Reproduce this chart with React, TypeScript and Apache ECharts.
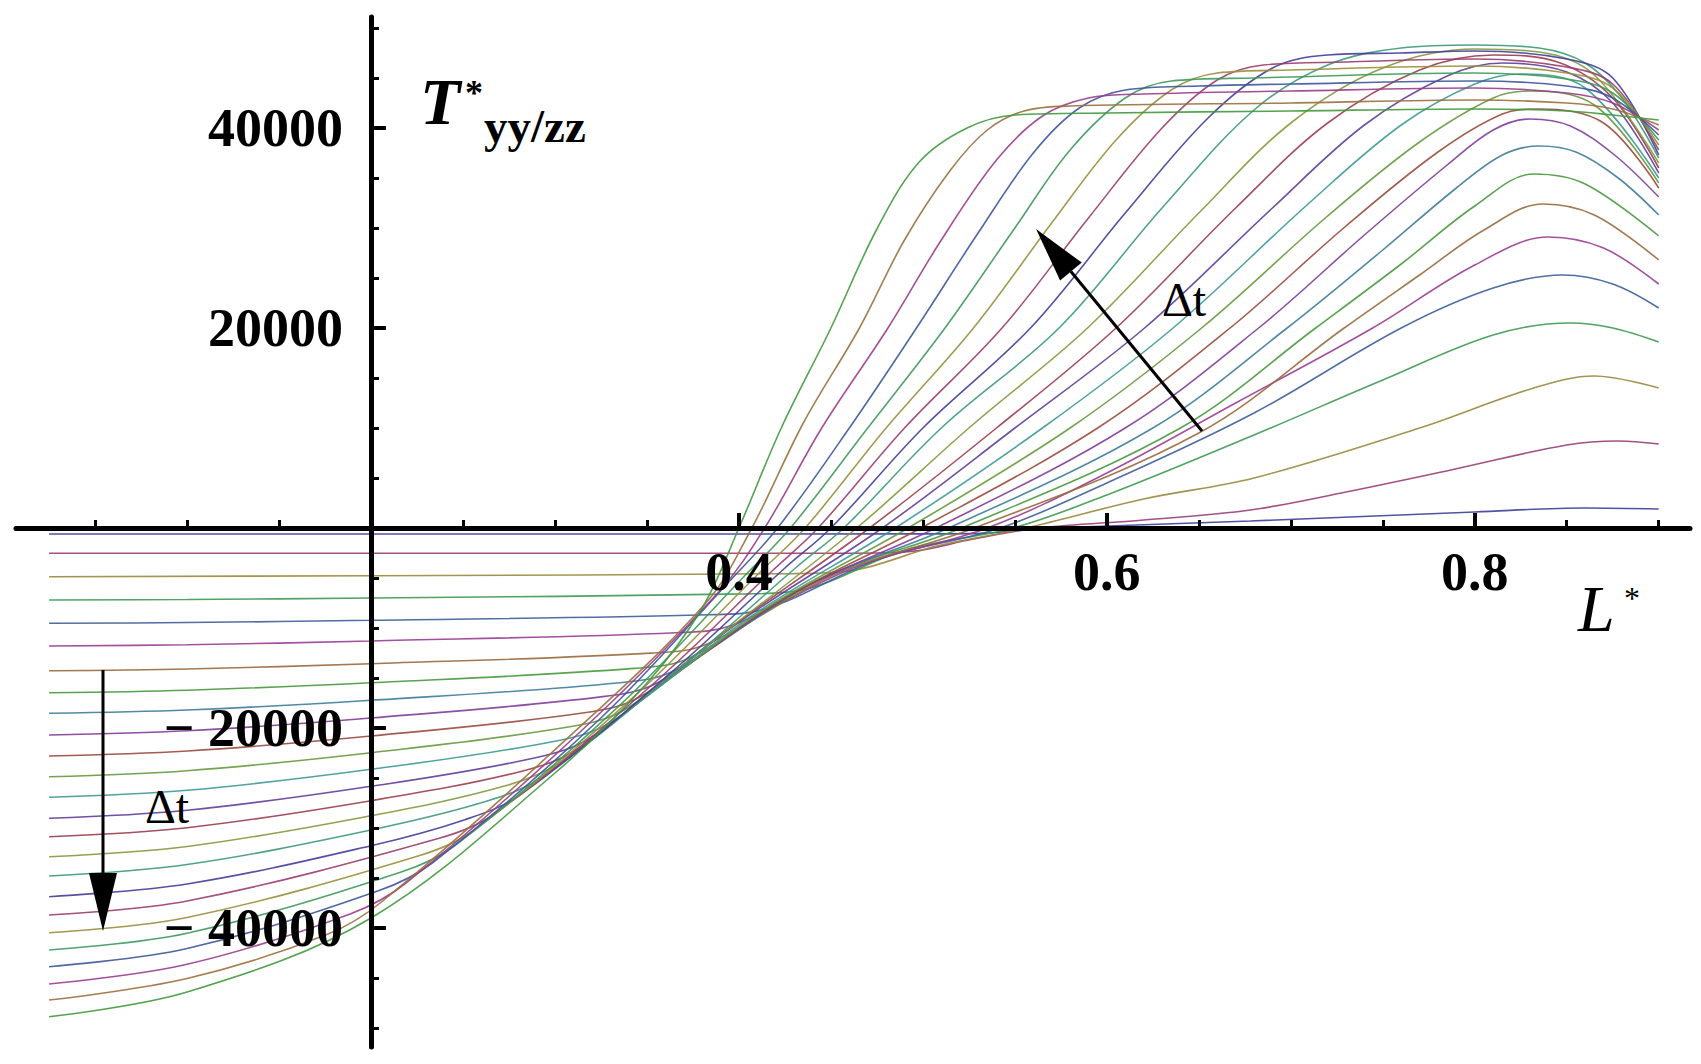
import React, { useEffect, useRef } from "react";
import * as echarts from "echarts";

// ---- data: [L*, T*] key points per curve (k = 1 is the smallest Δt) ----
const curve01 = [[0.025,-600],[0.2,-600],[0.5,-590],[0.532,-540],[0.551,-250],[0.57,0],[0.678,700],[0.8,1600],[0.86,2000],[0.9,1900]];
const curve02 = [[0.025,-2530],[0.2,-2530],[0.462,-2520],[0.492,-2380],[0.5275,-1100],[0.563,0],[0.62,800],[0.678,1800],[0.73,3600],[0.787,5800],[0.85,8300],[0.878,8700],[0.9,8400]];
const curve03 = [[0.025,-4870],[0.2,-4770],[0.43,-4560],[0.46,-4300],[0.5075,-1800],[0.556,0],[0.62,2900],[0.68,5000],[0.77,10000],[0.832,14000],[0.865,15200],[0.9,14000]];
const curve04 = [[0.025,-7200],[0.1,-7150],[0.2,-7000],[0.404,-6590],[0.434,-6200],[0.491,-2180],[0.549,0],[0.6,3300],[0.68,9300],[0.75,14800],[0.81,19300],[0.852,20500],[0.875,20000],[0.9,18600]];
const curve05 = [[0.025,-9530],[0.1,-9455],[0.2,-9230],[0.383,-8680],[0.413,-8150],[0.477,-3050],[0.542,0],[0.6,4500],[0.68,11500],[0.76,20000],[0.81,24000],[0.848,25300],[0.875,24400],[0.9,22000]];
const curve06 = [[0.025,-11800],[0.1,-11675],[0.2,-11300],[0.366,-10470],[0.396,-9750],[0.4645,-3825],[0.535,0],[0.6,5500],[0.67,12500],[0.7445,20000],[0.8,26300],[0.84,29100],[0.87,28000],[0.9,24400]];
const curve07 = [[0.025,-14270],[0.1,-14095],[0.2,-13570],[0.352,-12510],[0.382,-11650],[0.454,-4480],[0.528,0],[0.65,9500],[0.729,20000],[0.77,25300],[0.805,29800],[0.837,32400],[0.865,31300],[0.9,26800]];
const curve08 = [[0.025,-16470],[0.1,-16220],[0.2,-15470],[0.343,-14040],[0.373,-13000],[0.446,-4975],[0.521,0],[0.64,10000],[0.7135,20000],[0.76,26400],[0.8,32200],[0.832,35400],[0.86,34400],[0.9,29200]];
const curve09 = [[0.025,-18530],[0.1,-18205],[0.2,-17230],[0.335,-15475],[0.365,-14250],[0.4385,-5650],[0.514,0],[0.625,10000],[0.698,20000],[0.75,27800],[0.79,34000],[0.815,37300],[0.835,38200],[0.855,37600],[0.878,35000],[0.9,31300]];
const curve10 = [[0.025,-20700],[0.1,-20275],[0.2,-19000],[0.326,-16860],[0.356,-15450],[0.43,-6500],[0.507,0],[0.61,10000],[0.6825,20000],[0.74,29300],[0.785,36300],[0.81,39800],[0.83,40900],[0.852,40200],[0.876,37300],[0.9,33100]];
const curve11 = [[0.025,-22800],[0.1,-22300],[0.2,-20800],[0.316,-18480],[0.346,-16900],[0.4215,-7350],[0.499,0],[0.595,10000],[0.667,20000],[0.73,30200],[0.78,37600],[0.815,41400],[0.835,41900],[0.87,40500],[0.9,34000]];
const curve12 = [[0.025,-24870],[0.1,-24270],[0.2,-22470],[0.308,-19880],[0.338,-18150],[0.414,-8100],[0.492,0],[0.58,10000],[0.6515,20000],[0.72,31200],[0.77,38600],[0.81,43000],[0.83,43700],[0.865,42300],[0.9,34500]];
const curve13 = [[0.025,-26930],[0.1,-26230],[0.2,-24130],[0.3,-21330],[0.33,-19450],[0.406,-8900],[0.485,0],[0.565,10000],[0.636,20000],[0.71,32500],[0.76,40300],[0.8,44400],[0.825,45400],[0.86,44000],[0.9,35000]];
const curve14 = [[0.025,-29030],[0.1,-28230],[0.2,-25830],[0.29,-22950],[0.32,-20900],[0.3975,-9750],[0.478,0],[0.55,10000],[0.6205,20000],[0.69,32000],[0.74,40300],[0.785,45200],[0.815,46500],[0.85,45600],[0.875,42500],[0.9,35500]];
const curve15 = [[0.025,-30870],[0.1,-29970],[0.2,-27270],[0.282,-24320],[0.312,-22100],[0.39,-10700],[0.471,0],[0.54,10000],[0.605,20000],[0.67,32000],[0.72,40500],[0.77,45800],[0.81,47300],[0.845,46600],[0.875,43000],[0.9,36000]];
const curve16 = [[0.025,-32870],[0.1,-31845],[0.2,-28770],[0.274,-25730],[0.304,-23300],[0.3825,-11825],[0.464,0],[0.525,10000],[0.5895,20000],[0.65,31500],[0.7,40500],[0.75,46000],[0.8,47900],[0.835,47600],[0.865,45300],[0.9,36500]];
const curve17 = [[0.025,-34800],[0.1,-33650],[0.2,-30200],[0.264,-27260],[0.294,-24800],[0.3735,-13160],[0.432,-3800],[0.457,0],[0.51,10000],[0.574,20000],[0.63,32000],[0.68,41800],[0.72,46300],[0.76,48000],[0.8,48300],[0.835,48000],[0.86,46500],[0.88,43000],[0.9,37000]];
const curve18 = [[0.025,-36870],[0.1,-35595],[0.2,-31770],[0.251,-29170],[0.281,-26700],[0.3635,-14390],[0.425,-4000],[0.45,0],[0.5,10000],[0.5585,20000],[0.61,31500],[0.655,41000],[0.69,46000],[0.72,47300],[0.76,47500],[0.8,47700],[0.85,46900],[0.875,45000],[0.9,37300]];
const curve19 = [[0.025,-38700],[0.1,-37300],[0.237,-31030],[0.267,-28600],[0.353,-15650],[0.418,-4300],[0.443,0],[0.49,10000],[0.543,20000],[0.59,31000],[0.63,40000],[0.66,44800],[0.685,46300],[0.73,46600],[0.8,46900],[0.85,46100],[0.875,44400],[0.9,37800]];
const curve20 = [[0.025,-40470],[0.1,-38945],[0.226,-32780],[0.256,-30200],[0.3435,-16760],[0.411,-4500],[0.436,0],[0.48,10000],[0.5275,20000],[0.57,30500],[0.605,38800],[0.635,43800],[0.66,45500],[0.7,45800],[0.8,46200],[0.85,45500],[0.875,44000],[0.9,38300]];
const curve21 = [[0.025,-42200],[0.1,-40525],[0.216,-34430],[0.246,-31700],[0.335,-17770],[0.403,-4800],[0.428,0],[0.47,10000],[0.512,20000],[0.55,30000],[0.58,37800],[0.61,43000],[0.635,44700],[0.68,45000],[0.8,45500],[0.85,44900],[0.875,43500],[0.9,38800]];
const curve22 = [[0.025,-43870],[0.1,-42045],[0.204,-36280],[0.234,-33400],[0.3255,-18900],[0.396,-5100],[0.421,0],[0.46,10000],[0.4965,20000],[0.53,29500],[0.56,37500],[0.585,42000],[0.61,43800],[0.65,44200],[0.7,44400],[0.8,44700],[0.85,44200],[0.875,43000],[0.9,39300]];
const curve23 = [[0.025,-45600],[0.1,-43625],[0.189,-38570],[0.219,-35500],[0.3145,-20250],[0.389,-6400],[0.414,0],[0.445,10000],[0.481,20000],[0.51,28800],[0.54,36800],[0.565,41200],[0.59,43000],[0.62,43400],[0.7,43700],[0.8,44000],[0.85,43500],[0.875,42500],[0.9,39800]];
const curve24 = [[0.025,-47200],[0.1,-45050],[0.176,-40660],[0.206,-37350],[0.304,-21490],[0.382,-7500],[0.407,0],[0.435,10500],[0.4655,20000],[0.49,28800],[0.515,35800],[0.535,39800],[0.555,41700],[0.58,42200],[0.7,42500],[0.8,42800],[0.85,42500],[0.875,41900],[0.9,40300]];
const curve25 = [[0.025,-48870],[0.1,-46400],[0.2,-39000],[0.3,-24500],[0.35,-15500],[0.38,-8000],[0.4,0],[0.423,10000],[0.45,20000],[0.475,29900],[0.498,36600],[0.524,40000],[0.55,41300],[0.6,41500],[0.7,41700],[0.8,41900],[0.85,41700],[0.875,41300],[0.9,40800]];

const curves = [
  curve01, curve02, curve03, curve04, curve05, curve06, curve07, curve08, curve09, curve10,
  curve11, curve12, curve13, curve14, curve15, curve16, curve17, curve18, curve19, curve20,
  curve21, curve22, curve23, curve24, curve25,
];

// tick marks and tick labels
const xMajorTicks = [0.2, 0.4, 0.6, 0.8];
const xTickLabels = [0.4, 0.6, 0.8];
const yMajorTicks = [-40000, -20000, 0, 20000, 40000];
const yTickLabels = [-40000, -20000, 20000, 40000];

// Mathematica-style default plot colours (golden-ratio hue steps)
function plotColor(i: number): string {
  const h = ((((0.6634 + 0.236068 * i) % 1) + 1) % 1) * 6;
  const v = 0.6, s = 0.6;
  const c = v * s;
  const x = c * (1 - Math.abs((h % 2) - 1));
  const m = v - c;
  let r = 0, g = 0, b = 0;
  if (h < 1) { r = c; g = x; }
  else if (h < 2) { r = x; g = c; }
  else if (h < 3) { g = c; b = x; }
  else if (h < 4) { g = x; b = c; }
  else if (h < 5) { r = x; b = c; }
  else { r = c; b = x; }
  const to = (t: number) => Math.round((t + m) * 255);
  return `rgb(${to(r)},${to(g)},${to(b)})`;
}

const SERIF = '"Liberation Serif", "Times New Roman", serif';

export default function App() {
  const ref = useRef<HTMLDivElement>(null);

  useEffect(() => {
    if (!ref.current) return;
    const chart = echarts.init(ref.current, null, { renderer: "svg" });

    const series = curves.map((pts, i) => ({
      type: "line",
      name: "curve" + (i + 1),
      data: pts,
      showSymbol: false,
      smooth: 0.35,
      z: 2,
      lineStyle: { width: 1.6, color: plotColor(i), opacity: 0.9 },
      itemStyle: { color: plotColor(i) },
      emphasis: { disabled: true },
    }));

    // upper Δt arrow geometry
    const tail = [1202, 431];
    const tip = [1036, 229];
    const dx = tip[0] - tail[0], dy = tip[1] - tail[1];
    const len = Math.sqrt(dx * dx + dy * dy);
    const ux = dx / len, uy = dy / len;
    const headLen = 55, headHalf = 14;
    const bx = tip[0] - ux * headLen, by = tip[1] - uy * headLen;
    const nx = -uy, ny = ux;

    const option: any = {
      animation: false,
      backgroundColor: "#ffffff",
      grid: { left: 16, right: 11, top: 17, bottom: 17, containLabel: false, outerBoundsMode: "none" },
      xAxis: {
        type: "value",
        min: 0.007,
        max: 0.917,
        position: "bottom",
        offset: -519,
        z: 5,
        axisLine: { show: true, onZero: false, lineStyle: { color: "#000", width: 5 } },
        axisTick: { show: true, inside: true, length: 15, customValues: xMajorTicks, lineStyle: { color: "#000", width: 4 } },
        minorTick: { show: true, splitNumber: 4, length: 8, lineStyle: { color: "#000", width: 3 } },
        splitLine: { show: false },
        minorSplitLine: { show: false },
        axisLabel: {
          show: true,
          customValues: xTickLabels,
          margin: 17,
          color: "#000",
          fontSize: 54,
          fontWeight: "bold",
          fontFamily: SERIF,
          formatter: (v: number) => (xTickLabels.some((t) => Math.abs(t - v) < 1e-9) ? v.toFixed(1) : ""),
        },
      },
      yAxis: {
        type: "value",
        min: -51900,
        max: 51100,
        position: "left",
        offset: -355,
        z: 5,
        axisLine: { show: true, onZero: false, lineStyle: { color: "#000", width: 5 } },
        axisTick: { show: true, inside: true, length: 15, customValues: yMajorTicks, lineStyle: { color: "#000", width: 4 } },
        minorTick: { show: true, splitNumber: 4, length: 8, lineStyle: { color: "#000", width: 3 } },
        splitLine: { show: false },
        minorSplitLine: { show: false },
        axisLabel: {
          show: true,
          customValues: yTickLabels,
          margin: 28,
          color: "#000",
          fontSize: 54,
          fontWeight: "bold",
          fontFamily: SERIF,
          formatter: (v: number) => {
            if (!yTickLabels.includes(v)) return "";
            return v < 0 ? "\u2212 " + Math.abs(v) : String(v);
          },
        },
      },
      series,
      graphic: [
        // y-axis title T*_{yy/zz}
        { type: "text", x: 420, y: 101, z: 20, style: { text: "T", fill: "#000", fontSize: 66, lineHeight: 56, fontStyle: "italic", fontWeight: "bold", fontFamily: SERIF, textAlign: "left", textVerticalAlign: "middle" } },
        { type: "text", x: 465, y: 93, z: 20, style: { text: "*", fill: "#000", fontSize: 36, lineHeight: 14, fontWeight: "bold", fontFamily: SERIF, textAlign: "left", textVerticalAlign: "middle" } },
        { type: "text", x: 484, y: 126, z: 20, style: { text: "yy/zz", fill: "#000", fontSize: 47, lineHeight: 28, fontWeight: "bold", fontFamily: SERIF, textAlign: "left", textVerticalAlign: "middle" } },
        // x-axis title L*
        { type: "text", x: 1578, y: 608, z: 20, style: { text: "L", fill: "#000", fontSize: 66, fontStyle: "italic", fontFamily: SERIF, textAlign: "left", textVerticalAlign: "middle" } },
        { type: "text", x: 1624, y: 598, z: 20, style: { text: "*", fill: "#000", fontSize: 32, fontFamily: SERIF, textAlign: "left", textVerticalAlign: "middle" } },
        // upper Δt arrow
        { type: "line", z: 20, shape: { x1: tail[0], y1: tail[1], x2: bx, y2: by }, style: { stroke: "#000", lineWidth: 3 } },
        { type: "polygon", z: 20, shape: { points: [[tip[0], tip[1]], [bx + nx * headHalf, by + ny * headHalf], [bx - nx * headHalf, by - ny * headHalf]] }, style: { fill: "#000" } },
        { type: "text", x: 1184, y: 299, z: 20, style: { text: "\u0394t", fill: "#000", fontSize: 48, fontFamily: SERIF, textAlign: "center", textVerticalAlign: "middle" } },
        // lower Δt arrow
        { type: "line", z: 20, shape: { x1: 103, y1: 670, x2: 103, y2: 875 }, style: { stroke: "#000", lineWidth: 3 } },
        { type: "polygon", z: 20, shape: { points: [[103, 931], [89, 873], [117, 873]] }, style: { fill: "#000" } },
        { type: "text", x: 167, y: 806, z: 20, style: { text: "\u0394t", fill: "#000", fontSize: 48, fontFamily: SERIF, textAlign: "center", textVerticalAlign: "middle" } },
      ],
    };

    chart.setOption(option);
    return () => chart.dispose();
  }, []);

  return (
    <div
      ref={ref}
      style={{ position: "absolute", left: 0, top: 0, width: 1701, height: 1064, background: "#fff" }}
    />
  );
}
